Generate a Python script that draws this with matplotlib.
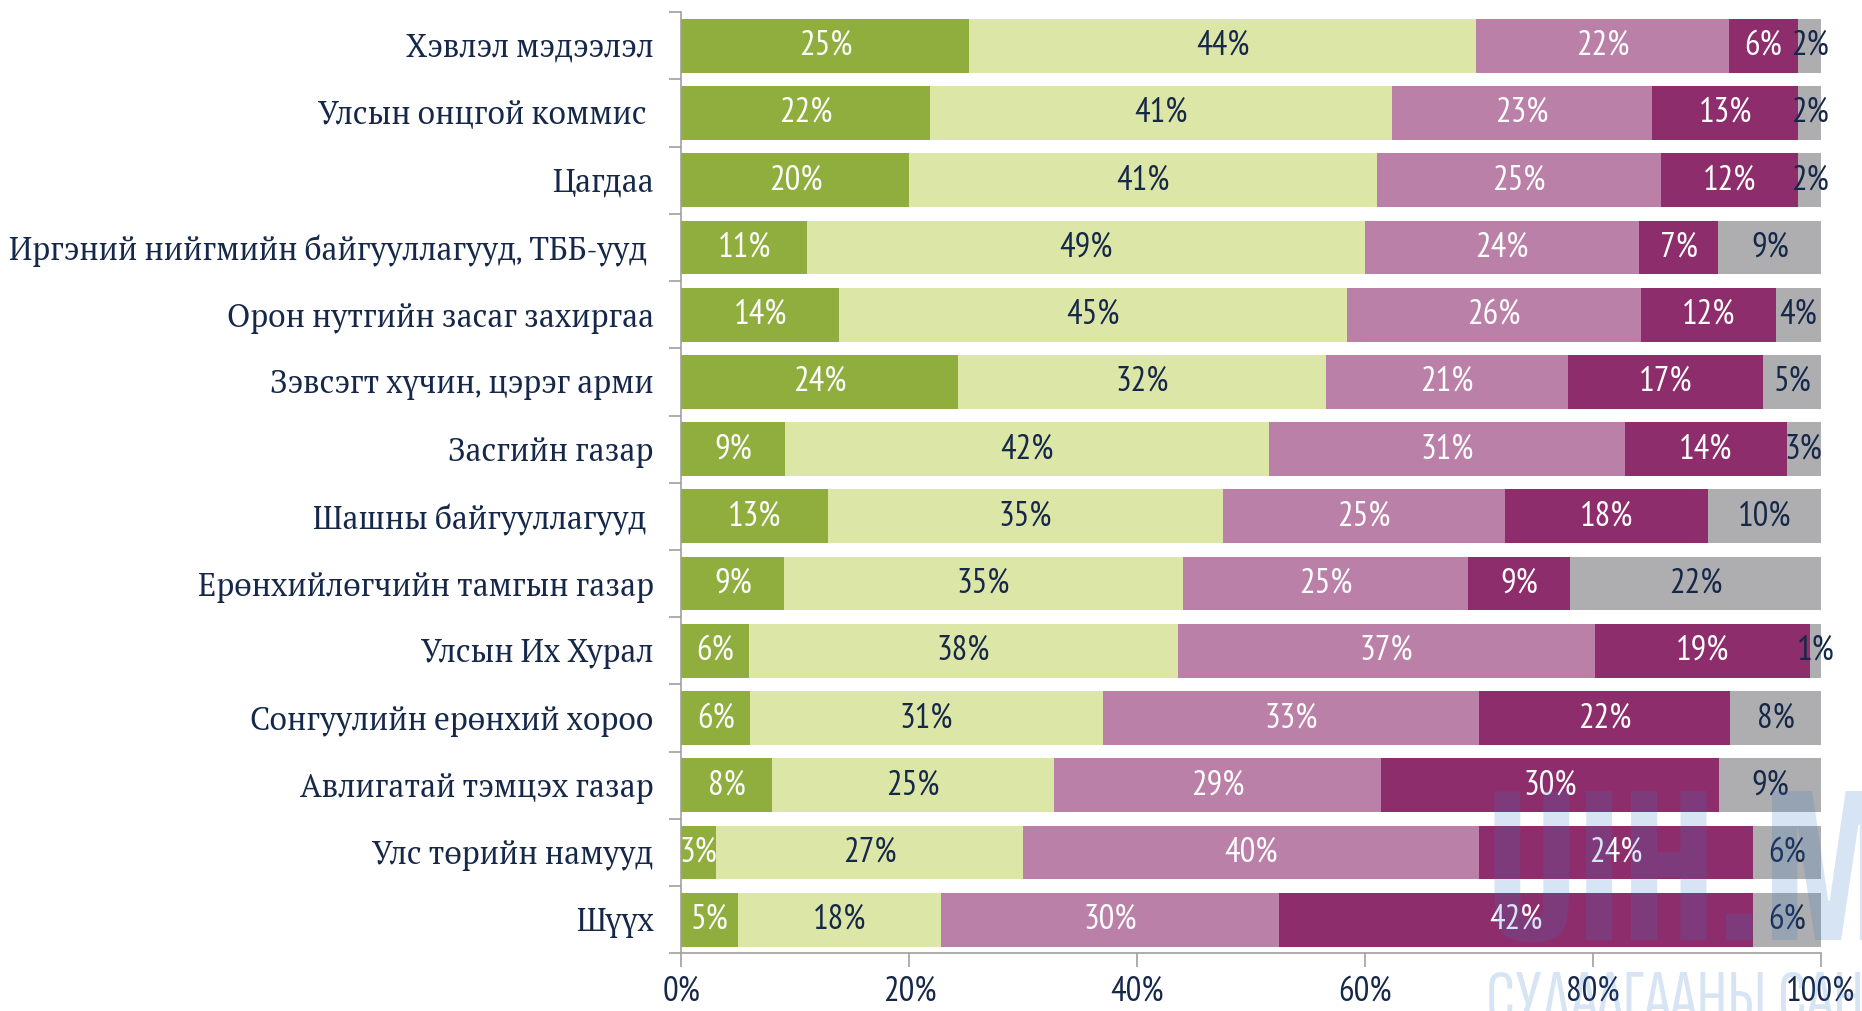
import numpy as np
import matplotlib.pyplot as plt

categories = [
    "Хэвлэл мэдээлэл",
    "Улсын онцгой коммис ",
    "Цагдаа",
    "Иргэний нийгмийн байгууллагууд, ТББ-ууд ",
    "Орон нутгийн засаг захиргаа",
    "Зэвсэгт хүчин, цэрэг арми",
    "Засгийн газар",
    "Шашны байгууллагууд ",
    "Ерөнхийлөгчийн тамгын газар",
    "Улсын Их Хурал",
    "Сонгуулийн ерөнхий хороо",
    "Авлигатай тэмцэх газар",
    "Улс төрийн намууд",
    "Шүүх",
]
fully_trust = [25, 22, 20, 11, 14, 24, 9, 13, 9, 6, 6, 8, 3, 5]
somewhat_trust = [44, 41, 41, 49, 45, 32, 42, 35, 35, 38, 31, 25, 27, 18]
somewhat_distrust = [22, 23, 25, 24, 26, 21, 31, 25, 25, 37, 33, 29, 40, 30]
fully_distrust = [6, 13, 12, 7, 12, 17, 14, 18, 9, 19, 22, 30, 24, 42]
dont_know = [2, 2, 2, 9, 4, 5, 3, 10, 22, 1, 8, 9, 6, 6]
tick_labels = ["0%", "20%", "40%", "60%", "80%", "100%"]

series = [fully_trust, somewhat_trust, somewhat_distrust, fully_distrust, dont_know]
colors = ["#8fae3d", "#dce6a6", "#ba80a8", "#8e2d6b", "#aeaeb0"]
text_colors = ["white", "#16284a", "white", "white", "#16284a"]

navy = "#16284a"
num_font = ["PT Sans Narrow", "DejaVu Sans"]
label_font = ["Caladea", "PT Serif", "DejaVu Serif"]
mark_font = ["Saira ExtraCondensed", "Sofia Sans Extra Condensed", "DejaVu Sans"]

fig = plt.figure(figsize=(18.62, 10.11), dpi=100)
ax = fig.add_axes([0.366, 0.057, 0.612, 0.931])

data = np.array(series, dtype=float)
totals = data.sum(axis=0)
shares = data / totals * 100
y = np.arange(len(categories))
left = np.zeros(len(categories))
for vals, shr, col, tcol in zip(series, shares, colors, text_colors):
    ax.barh(y, shr, left=left, height=0.8, color=col, edgecolor="none")
    for i in range(len(categories)):
        ax.text(left[i] + shr[i] / 2, y[i], f"{vals[i]}%", ha="center", va="center",
                color=tcol, fontsize=25, family=num_font)
    left += shr

ax.set_xlim(0, 100)
ax.set_ylim(len(categories) - 0.5, -0.5)
ax.set_xticks(np.arange(0, 101, 20))
ax.set_xticklabels(tick_labels, fontsize=25, color=navy, family=num_font)
ax.set_yticks(y)
ax.set_yticklabels(categories, fontsize=22.8, color=navy, family=label_font)
ax.set_yticks(np.arange(-0.5, len(categories), 1), minor=True)
ax.tick_params(axis="y", which="major", length=0, pad=20)
ax.tick_params(axis="y", which="minor", length=9, color="#a0a0a0", width=1.2)
ax.tick_params(axis="x", length=10, color="#a0a0a0", width=1.2, pad=6)
for s in ["top", "right"]:
    ax.spines[s].set_visible(False)
for s in ["left", "bottom"]:
    ax.spines[s].set_color("#a0a0a0")
    ax.spines[s].set_linewidth(1.2)

# faint watermark
fig.text(0.798, 0.07, "UIH.MN", fontsize=155, fontweight="bold", color="#3a78c4",
         alpha=0.2, family=mark_font, va="baseline", ha="left")
fig.text(0.798, -0.01, "СУДАЛГААНЫ САН", fontsize=54, fontweight="bold", color="#3a78c4",
         alpha=0.2, family=mark_font, va="baseline", ha="left")

fig.savefig("out.png", dpi=100)
